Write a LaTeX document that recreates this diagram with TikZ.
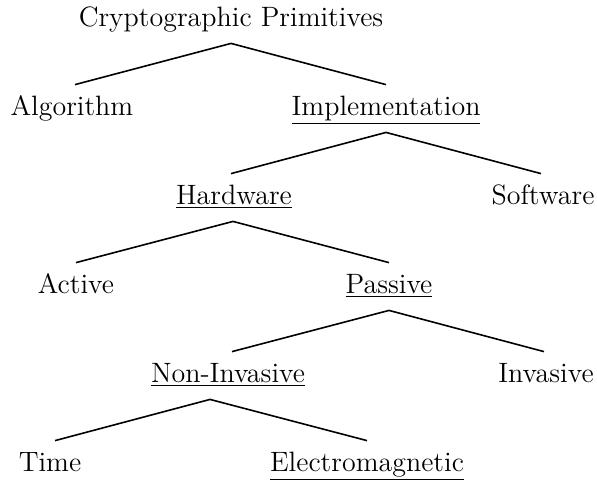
\documentclass[tikz,border=0pt]{standalone}
\begin{document}
\begin{tikzpicture}[x=0.5pt,y=-0.5pt,
  lbl/.style={anchor=base, inner xsep=0pt, inner ysep=5.5pt, text height=9.5pt, text depth=3pt, font=\fontsize{14}{16.5}\selectfont},
  edge/.style={line width=0.8pt}]
\useasboundingbox (0,0) rectangle (597,479);
\node[lbl] (crypt) at (231,26) {Cryptographic Primitives};
\node[lbl] (alg) at (72,115) {Algorithm};
\node[lbl] (impl) at (386,115) {\underline{Implementation}};
\node[lbl] (hw) at (234,204) {\underline{Hardware}};
\node[lbl] (sw) at (543,204) {Software};
\node[lbl] (act) at (76,293) {Active};
\node[lbl] (pas) at (389,293) {\underline{Passive}};
\node[lbl] (ni) at (228,382) {\underline{Non-Invasive}};
\node[lbl] (inv) at (546,382) {Invasive};
\node[lbl] (time) at (50,471) {Time};
\node[lbl] (em) at (367,471) {\underline{Electromagnetic}};
\draw[edge] ([xshift=1.5pt]alg.north) -- (crypt.south) -- (impl.north);
\draw[edge] ([xshift=-1.5pt]hw.north) -- (impl.south) -- ([xshift=-1pt]sw.north);
\draw[edge] (act.north) -- ([xshift=-0.5pt]hw.south) -- (pas.north);
\draw[edge] ([xshift=2pt]ni.north) -- (pas.south) -- ([xshift=-1pt]inv.north);
\draw[edge] ([xshift=2.5pt]time.north) -- ([xshift=-9pt]ni.south) -- (em.north);
\end{tikzpicture}
\end{document}
